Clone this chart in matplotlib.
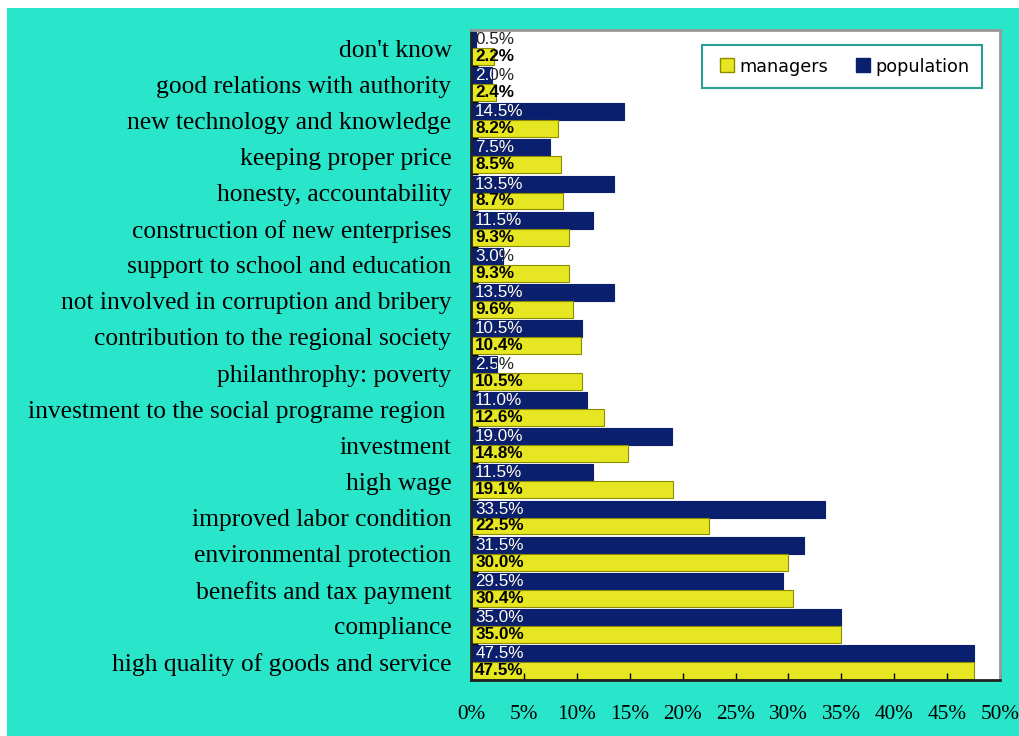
import matplotlib.pyplot as plt
import numpy as np
from matplotlib.patches import Rectangle
from matplotlib.lines import Line2D

categories = [
    "don't know",
    "good relations with authority",
    "new technology and knowledge",
    "keeping proper price",
    "honesty, accountability",
    "construction of new enterprises",
    "support to school and education",
    "not involved in corruption and bribery",
    "contribution to the regional society",
    "philanthrophy: poverty",
    "investment to the social programe region ",
    "investment",
    "high wage",
    "improved labor condition",
    "environmental protection",
    "benefits and tax payment",
    "compliance",
    "high quality of goods and service",
]
population = [0.5, 2.0, 14.5, 7.5, 13.5, 11.5, 3.0, 13.5, 10.5, 2.5,
              11.0, 19.0, 11.5, 33.5, 31.5, 29.5, 35.0, 47.5]
managers = [2.2, 2.4, 8.2, 8.5, 8.7, 9.3, 9.3, 9.6, 10.4, 10.5,
            12.6, 14.8, 19.1, 22.5, 30.0, 30.4, 35.0, 47.5]
xticks = [0, 5, 10, 15, 20, 25, 30, 35, 40, 45, 50]

navy = '#0A1F6E'
yellow = '#E6E622'
bg = '#29E6CB'

fig = plt.figure(figsize=(10.19, 7.36), dpi=100, facecolor='white')
fig.patches.append(Rectangle((7 / 1019, 0), 1, 1 - 8 / 736, transform=fig.transFigure,
                             facecolor=bg, edgecolor='none', zorder=-10))

ax = fig.add_axes([471 / 1019, 56 / 736, 529 / 1019, 650 / 736])
ax.set_facecolor('white')

y = np.arange(len(categories))
h = 0.47
pop_bars = ax.barh(y - h / 2, population, height=h, color=navy, edgecolor=navy, linewidth=0.8)
ax.barh(y + h / 2, managers, height=h, color=yellow, edgecolor='#8C8C00', linewidth=0.8)

for i in range(len(categories)):
    lbl = f"{population[i]:.1f}%"
    # dark text where it runs past the bar, white text over the bar
    ax.text(0.4, y[i] - h / 2, lbl, color='#222222', fontsize=12.3,
            family='Liberation Sans', va='center', ha='left')
    t = ax.text(0.4, y[i] - h / 2, lbl, color='white', fontsize=12.3,
                family='Liberation Sans', va='center', ha='left', clip_on=True)
    t.set_clip_path(pop_bars[i])
    ax.text(0.4, y[i] + h / 2, f"{managers[i]:.1f}%", color='black', fontsize=12.3,
            family='Liberation Sans', fontweight='bold', va='center', ha='left')

ax.set_xlim(0, 50)
ax.set_ylim(len(categories) - 0.5, -0.5)
ax.set_xticks(xticks)
ax.set_xticklabels([f"{t}%" for t in xticks], family='Liberation Serif', fontsize=15.3)
ax.tick_params(axis='x', direction='in', length=5, pad=18, width=1)
ax.set_yticks(y)
ax.set_yticklabels(categories, family='Liberation Serif', fontsize=18.4)
ax.tick_params(axis='y', length=0, pad=14)
ax.set_yticks(np.arange(len(categories) + 1) - 0.5, minor=True)
ax.tick_params(axis='y', which='minor', direction='in', length=5, width=1)

for s in ['left', 'bottom']:
    ax.spines[s].set_color('#222222')
    ax.spines[s].set_linewidth(2)
for s in ['top', 'right']:
    ax.spines[s].set_color('#999999')
    ax.spines[s].set_linewidth(2)

handles = [Line2D([], [], linestyle='none', marker='s', markersize=9.5,
                  markerfacecolor=yellow, markeredgecolor='#8C8C00', label='managers'),
           Line2D([], [], linestyle='none', marker='s', markersize=9.5,
                  markerfacecolor=navy, markeredgecolor=navy, label='population')]
leg = ax.legend(handles=handles, loc='upper right', bbox_to_anchor=(0.966, 0.977),
                borderaxespad=0, ncol=2, fancybox=False, framealpha=1, edgecolor='#2A9D95',
                prop={'family': 'DejaVu Sans', 'size': 12.7}, handlelength=1.33,
                columnspacing=1.3, borderpad=0.72, handletextpad=0.05)
leg.get_frame().set_linewidth(1.5)

fig.savefig('out.png', dpi=100, facecolor=fig.get_facecolor())
